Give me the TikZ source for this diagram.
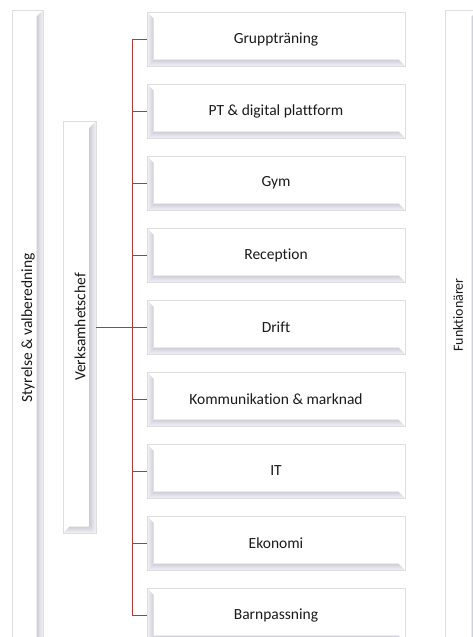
\documentclass[tikz,border=0pt]{standalone}
\usepackage{fontspec}
\setmainfont{Carlito}[Ligatures=CommonOff]
\usetikzlibrary{calc}
\definecolor{redline}{HTML}{B8393C}
\definecolor{bevd}{HTML}{CDCDD8}
\definecolor{bevl}{HTML}{F3F3F6}
\definecolor{boxline}{HTML}{DEDEE2}
\definecolor{txt}{HTML}{1A1A1A}
\tikzset{
  boxbase/.style={draw=boxline, line width=0.7pt, fill=white, inner sep=0pt, outer sep=0pt, text=txt},
  hbox/.style={boxbase, minimum width=258pt, minimum height=54pt,
    font=\fontsize{15.5}{18}\selectfont,
    path picture={
      \path (path picture bounding box.south west) coordinate (pSW)
            (path picture bounding box.north east) coordinate (pNE);
      \fill[left color=bevl, right color=bevd]
        (pSW) -- (pSW |- pNE) -- ([shift={(6.5pt,-6.5pt)}]pSW |- pNE) -- ([shift={(6.5pt,6.5pt)}]pSW) -- cycle;
      \fill[top color=bevd, bottom color=bevl]
        (pSW) -- (pNE |- pSW) -- ([shift={(-6.5pt,6.5pt)}]pNE |- pSW) -- ([shift={(6.5pt,6.5pt)}]pSW) -- cycle;
    }},
  vbox/.style={boxbase,
    path picture={
      \path (path picture bounding box.south west) coordinate (pSW)
            (path picture bounding box.north east) coordinate (pNE);
      \fill[left color=bevd, right color=bevl]
        (pNE) -- (pNE |- pSW) -- ([shift={(-6.5pt,6.5pt)}]pNE |- pSW) -- ([shift={(-6.5pt,-6.5pt)}]pNE) -- cycle;
      \fill[top color=bevd, bottom color=bevl]
        (pSW) -- (pNE |- pSW) -- ([shift={(-6.5pt,6.5pt)}]pNE |- pSW) -- ([shift={(6.5pt,6.5pt)}]pSW) -- cycle;
    }},
  vtext/.style={rotate=90, text=txt, inner sep=0pt, font=\fontsize{15.5}{18}\selectfont},
  conn/.style={draw=redline, line width=0.8pt},
}
\begin{document}
\begin{tikzpicture}[x=1pt, y=-1pt]
  \useasboundingbox (0,0) rectangle (473,637);
  \clip (0,0) rectangle (473,637);
  \fill[white] (0,0) rectangle (473,637);

  % tall vertical boxes
  \node[vbox, minimum width=31pt, minimum height=636pt] (sv) at (27.5,328) {};
  \node[vtext] (svt) at (28,328) {Styrelse \& valberedning};
  \node[vbox, minimum width=33pt, minimum height=412pt] (vc) at (79.5,327) {};
  \node[vtext] (vct) at (80,327) {Verksamhetschef};
  \node[vbox, minimum width=33pt, minimum height=636pt] (fk) at (461.5,328) {};
  \node[vtext, font=\fontsize{14}{17}\selectfont] (fkt) at (458,315) {Funktionärer};

  % horizontal boxes
  \node[hbox] (b1) at (276,39)  {Gruppträning};
  \node[hbox] (b2) at (276,111) {PT \& digital plattform};
  \node[hbox] (b3) at (276,183) {Gym};
  \node[hbox] (b4) at (276,255) {Reception};
  \node[hbox] (b5) at (276,327) {Drift};
  \node[hbox] (b6) at (276,399) {Kommunikation \& marknad};
  \node[hbox] (b7) at (276,471) {IT};
  \node[hbox] (b8) at (276,543) {Ekonomi};
  \node[hbox] (b9) at (276,615) {Barnpassning};

  % connectors
  \coordinate (spine) at (132,327);
  \draw[conn] (vc.east) -- (vc.east -| spine);
  \draw[conn] (b1.west -| spine) -- (b9.west -| spine);
  \foreach \i in {1,...,9}{
    \draw[conn] (b\i.west -| spine) -- (b\i.west);
  }
\end{tikzpicture}
\end{document}
